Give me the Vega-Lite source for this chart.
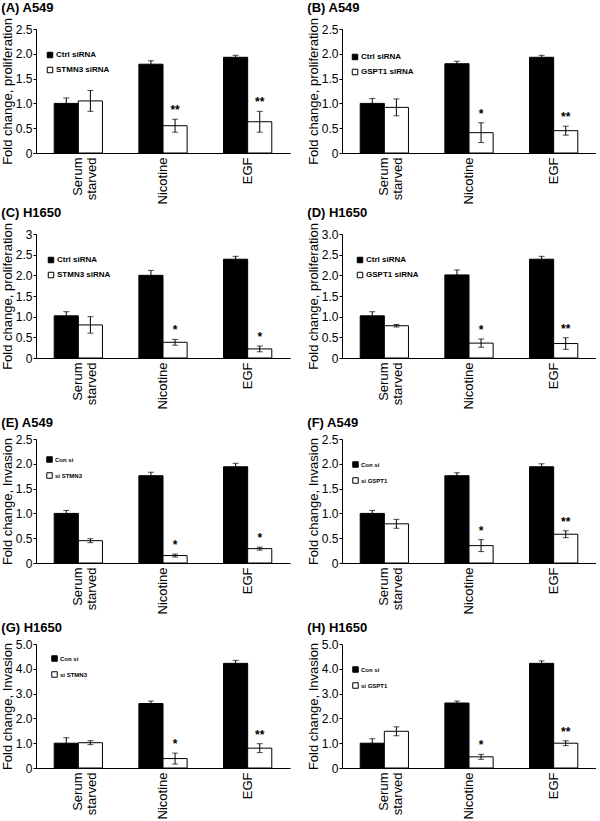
{
  "$schema": "https://vega.github.io/schema/vega-lite/v6.json",
  "padding": {"left": 1, "top": 1, "right": 0, "bottom": 0},
  "background": "white",
  "data": {"values": [
    {"panel": "A", "cond": "Serum starved", "grp": "Ctrl siRNA", "value": 1.0, "err": 0.11, "sig": ""},
    {"panel": "A", "cond": "Serum starved", "grp": "STMN3 siRNA", "value": 1.05, "err": 0.21, "sig": ""},
    {"panel": "A", "cond": "Nicotine", "grp": "Ctrl siRNA", "value": 1.79, "err": 0.07, "sig": ""},
    {"panel": "A", "cond": "Nicotine", "grp": "STMN3 siRNA", "value": 0.55, "err": 0.13, "sig": "**"},
    {"panel": "A", "cond": "EGF", "grp": "Ctrl siRNA", "value": 1.93, "err": 0.04, "sig": ""},
    {"panel": "A", "cond": "EGF", "grp": "STMN3 siRNA", "value": 0.63, "err": 0.21, "sig": "**"},
    {"panel": "B", "cond": "Serum starved", "grp": "Ctrl siRNA", "value": 1.0, "err": 0.1, "sig": ""},
    {"panel": "B", "cond": "Serum starved", "grp": "GSPT1 siRNA", "value": 0.92, "err": 0.17, "sig": ""},
    {"panel": "B", "cond": "Nicotine", "grp": "Ctrl siRNA", "value": 1.8, "err": 0.05, "sig": ""},
    {"panel": "B", "cond": "Nicotine", "grp": "GSPT1 siRNA", "value": 0.41, "err": 0.2, "sig": "*"},
    {"panel": "B", "cond": "EGF", "grp": "Ctrl siRNA", "value": 1.93, "err": 0.04, "sig": ""},
    {"panel": "B", "cond": "EGF", "grp": "GSPT1 siRNA", "value": 0.45, "err": 0.09, "sig": "**"},
    {"panel": "C", "cond": "Serum starved", "grp": "Ctrl siRNA", "value": 1.02, "err": 0.1, "sig": ""},
    {"panel": "C", "cond": "Serum starved", "grp": "STMN3 siRNA", "value": 0.8, "err": 0.2, "sig": ""},
    {"panel": "C", "cond": "Nicotine", "grp": "Ctrl siRNA", "value": 2.0, "err": 0.12, "sig": ""},
    {"panel": "C", "cond": "Nicotine", "grp": "STMN3 siRNA", "value": 0.38, "err": 0.07, "sig": "*"},
    {"panel": "C", "cond": "EGF", "grp": "Ctrl siRNA", "value": 2.39, "err": 0.07, "sig": ""},
    {"panel": "C", "cond": "EGF", "grp": "STMN3 siRNA", "value": 0.22, "err": 0.07, "sig": "*"},
    {"panel": "D", "cond": "Serum starved", "grp": "Ctrl siRNA", "value": 1.02, "err": 0.1, "sig": ""},
    {"panel": "D", "cond": "Serum starved", "grp": "GSPT1 siRNA", "value": 0.78, "err": 0.03, "sig": ""},
    {"panel": "D", "cond": "Nicotine", "grp": "Ctrl siRNA", "value": 2.01, "err": 0.12, "sig": ""},
    {"panel": "D", "cond": "Nicotine", "grp": "GSPT1 siRNA", "value": 0.36, "err": 0.1, "sig": "*"},
    {"panel": "D", "cond": "EGF", "grp": "Ctrl siRNA", "value": 2.39, "err": 0.07, "sig": ""},
    {"panel": "D", "cond": "EGF", "grp": "GSPT1 siRNA", "value": 0.35, "err": 0.14, "sig": "**"},
    {"panel": "E", "cond": "Serum starved", "grp": "Con si", "value": 1.0, "err": 0.06, "sig": ""},
    {"panel": "E", "cond": "Serum starved", "grp": "si STMN3", "value": 0.45, "err": 0.04, "sig": ""},
    {"panel": "E", "cond": "Nicotine", "grp": "Con si", "value": 1.76, "err": 0.07, "sig": ""},
    {"panel": "E", "cond": "Nicotine", "grp": "si STMN3", "value": 0.15, "err": 0.03, "sig": "*"},
    {"panel": "E", "cond": "EGF", "grp": "Con si", "value": 1.94, "err": 0.07, "sig": ""},
    {"panel": "E", "cond": "EGF", "grp": "si STMN3", "value": 0.29, "err": 0.03, "sig": "*"},
    {"panel": "F", "cond": "Serum starved", "grp": "Con si", "value": 1.0, "err": 0.06, "sig": ""},
    {"panel": "F", "cond": "Serum starved", "grp": "si GSPT1", "value": 0.79, "err": 0.09, "sig": ""},
    {"panel": "F", "cond": "Nicotine", "grp": "Con si", "value": 1.76, "err": 0.06, "sig": ""},
    {"panel": "F", "cond": "Nicotine", "grp": "si GSPT1", "value": 0.35, "err": 0.12, "sig": "*"},
    {"panel": "F", "cond": "EGF", "grp": "Con si", "value": 1.94, "err": 0.06, "sig": ""},
    {"panel": "F", "cond": "EGF", "grp": "si GSPT1", "value": 0.58, "err": 0.07, "sig": "**"},
    {"panel": "G", "cond": "Serum starved", "grp": "Con si", "value": 1.0, "err": 0.22, "sig": ""},
    {"panel": "G", "cond": "Serum starved", "grp": "si STMN3", "value": 1.02, "err": 0.08, "sig": ""},
    {"panel": "G", "cond": "Nicotine", "grp": "Con si", "value": 2.6, "err": 0.1, "sig": ""},
    {"panel": "G", "cond": "Nicotine", "grp": "si STMN3", "value": 0.38, "err": 0.22, "sig": "*"},
    {"panel": "G", "cond": "EGF", "grp": "Con si", "value": 4.22, "err": 0.12, "sig": ""},
    {"panel": "G", "cond": "EGF", "grp": "si STMN3", "value": 0.8, "err": 0.18, "sig": "**"},
    {"panel": "H", "cond": "Serum starved", "grp": "Con si", "value": 1.0, "err": 0.18, "sig": ""},
    {"panel": "H", "cond": "Serum starved", "grp": "si GSPT1", "value": 1.48, "err": 0.18, "sig": ""},
    {"panel": "H", "cond": "Nicotine", "grp": "Con si", "value": 2.62, "err": 0.08, "sig": ""},
    {"panel": "H", "cond": "Nicotine", "grp": "si GSPT1", "value": 0.45, "err": 0.1, "sig": "*"},
    {"panel": "H", "cond": "EGF", "grp": "Con si", "value": 4.22, "err": 0.1, "sig": ""},
    {"panel": "H", "cond": "EGF", "grp": "si GSPT1", "value": 1.0, "err": 0.1, "sig": "**"}
  ]},
  "columns": 2,
  "spacing": {"row": 81, "column": 52},
  "bounds": "flush",
  "resolve": {"scale": {"x": "independent", "y": "independent", "fill": "independent", "xOffset": "independent"}, "legend": {"fill": "independent"}},
  "concat": [
    {
      "title": {"text": "\u00a0\u00a0\u00a0\u00a0(A) A549"},
      "width": 254, "height": 124,
      "transform": [{"filter": "datum.panel == 'A'"}, {"calculate": "datum.value - datum.err", "as": "lo"}, {"calculate": "datum.value + datum.err", "as": "hi"}],
      "encoding": {
        "x": {"field": "cond", "type": "nominal", "sort": ["Serum starved", "Nicotine", "EGF"], "title": null, "scale": {"paddingInner": 0.43, "paddingOuter": 0.215}, "axis": {"labelExpr": "datum.value == 'Serum starved' ? ['Serum', 'starved'] : datum.label"}},
        "xOffset": {"field": "grp", "type": "nominal"}
      },
      "layer": [
        {"mark": {"type": "bar", "stroke": "black", "strokeWidth": 1}, "encoding": {"y": {"field": "value", "type": "quantitative", "title": "Fold change, proliferation", "scale": {"domain": [0, 2.5]}, "axis": {"values": [0, 0.5, 1, 1.5, 2, 2.5], "labelExpr": "datum.value == 0 ? '0' : format(datum.value, '.1f')"}}, "fill": {"field": "grp", "type": "nominal", "scale": {"range": ["black", "white"]}, "legend": {"legendX": 10, "legendY": 22, "labelFontSize": 8, "rowPadding": 5}}}},
        {"mark": {"type": "rule", "color": "black"}, "encoding": {"y": {"field": "lo", "type": "quantitative", "title": "Fold change, proliferation", "scale": {"domain": [0, 2.5]}, "axis": {"values": [0, 0.5, 1, 1.5, 2, 2.5], "labelExpr": "datum.value == 0 ? '0' : format(datum.value, '.1f')"}}, "y2": {"field": "hi"}}},
        {"mark": {"type": "tick", "color": "black", "size": 6, "thickness": 1}, "encoding": {"y": {"field": "hi", "type": "quantitative", "title": "Fold change, proliferation", "scale": {"domain": [0, 2.5]}, "axis": {"values": [0, 0.5, 1, 1.5, 2, 2.5], "labelExpr": "datum.value == 0 ? '0' : format(datum.value, '.1f')"}}}},
        {"mark": {"type": "tick", "color": "black", "size": 6, "thickness": 1}, "encoding": {"y": {"field": "lo", "type": "quantitative", "title": "Fold change, proliferation", "scale": {"domain": [0, 2.5]}, "axis": {"values": [0, 0.5, 1, 1.5, 2, 2.5], "labelExpr": "datum.value == 0 ? '0' : format(datum.value, '.1f')"}}}},
        {"mark": {"type": "text", "baseline": "bottom", "dy": -2, "fontSize": 12, "fontWeight": "bold"}, "encoding": {"y": {"field": "hi", "type": "quantitative", "title": "Fold change, proliferation", "scale": {"domain": [0, 2.5]}, "axis": {"values": [0, 0.5, 1, 1.5, 2, 2.5], "labelExpr": "datum.value == 0 ? '0' : format(datum.value, '.1f')"}}, "text": {"field": "sig"}}}
      ]
    },
    {
      "title": {"text": "(B) A549"},
      "width": 254, "height": 124,
      "transform": [{"filter": "datum.panel == 'B'"}, {"calculate": "datum.value - datum.err", "as": "lo"}, {"calculate": "datum.value + datum.err", "as": "hi"}],
      "encoding": {
        "x": {"field": "cond", "type": "nominal", "sort": ["Serum starved", "Nicotine", "EGF"], "title": null, "scale": {"paddingInner": 0.43, "paddingOuter": 0.215}, "axis": {"labelExpr": "datum.value == 'Serum starved' ? ['Serum', 'starved'] : datum.label"}},
        "xOffset": {"field": "grp", "type": "nominal"}
      },
      "layer": [
        {"mark": {"type": "bar", "stroke": "black", "strokeWidth": 1}, "encoding": {"y": {"field": "value", "type": "quantitative", "title": "Fold change, proliferation", "scale": {"domain": [0, 2.5]}, "axis": {"values": [0, 0.5, 1, 1.5, 2, 2.5], "labelExpr": "datum.value == 0 ? '0' : format(datum.value, '.1f')"}}, "fill": {"field": "grp", "type": "nominal", "scale": {"range": ["black", "white"]}, "legend": {"legendX": 9, "legendY": 24, "labelFontSize": 8, "rowPadding": 5}}}},
        {"mark": {"type": "rule", "color": "black"}, "encoding": {"y": {"field": "lo", "type": "quantitative", "title": "Fold change, proliferation", "scale": {"domain": [0, 2.5]}, "axis": {"values": [0, 0.5, 1, 1.5, 2, 2.5], "labelExpr": "datum.value == 0 ? '0' : format(datum.value, '.1f')"}}, "y2": {"field": "hi"}}},
        {"mark": {"type": "tick", "color": "black", "size": 6, "thickness": 1}, "encoding": {"y": {"field": "hi", "type": "quantitative", "title": "Fold change, proliferation", "scale": {"domain": [0, 2.5]}, "axis": {"values": [0, 0.5, 1, 1.5, 2, 2.5], "labelExpr": "datum.value == 0 ? '0' : format(datum.value, '.1f')"}}}},
        {"mark": {"type": "tick", "color": "black", "size": 6, "thickness": 1}, "encoding": {"y": {"field": "lo", "type": "quantitative", "title": "Fold change, proliferation", "scale": {"domain": [0, 2.5]}, "axis": {"values": [0, 0.5, 1, 1.5, 2, 2.5], "labelExpr": "datum.value == 0 ? '0' : format(datum.value, '.1f')"}}}},
        {"mark": {"type": "text", "baseline": "bottom", "dy": -2, "fontSize": 12, "fontWeight": "bold"}, "encoding": {"y": {"field": "hi", "type": "quantitative", "title": "Fold change, proliferation", "scale": {"domain": [0, 2.5]}, "axis": {"values": [0, 0.5, 1, 1.5, 2, 2.5], "labelExpr": "datum.value == 0 ? '0' : format(datum.value, '.1f')"}}, "text": {"field": "sig"}}}
      ]
    },
    {
      "title": {"text": "\u00a0\u00a0\u00a0\u00a0\u00a0(C) H1650"},
      "width": 254, "height": 124,
      "transform": [{"filter": "datum.panel == 'C'"}, {"calculate": "datum.value - datum.err", "as": "lo"}, {"calculate": "datum.value + datum.err", "as": "hi"}],
      "encoding": {
        "x": {"field": "cond", "type": "nominal", "sort": ["Serum starved", "Nicotine", "EGF"], "title": null, "scale": {"paddingInner": 0.43, "paddingOuter": 0.215}, "axis": {"labelExpr": "datum.value == 'Serum starved' ? ['Serum', 'starved'] : datum.label"}},
        "xOffset": {"field": "grp", "type": "nominal"}
      },
      "layer": [
        {"mark": {"type": "bar", "stroke": "black", "strokeWidth": 1}, "encoding": {"y": {"field": "value", "type": "quantitative", "title": "Fold change, proliferation", "scale": {"domain": [0, 3]}, "axis": {"values": [0, 0.5, 1, 1.5, 2, 2.5, 3], "labelExpr": "datum.value == 0 ? '0' : datum.value == 3 ? '3' : format(datum.value, '.1f')"}}, "fill": {"field": "grp", "type": "nominal", "scale": {"range": ["black", "white"]}, "legend": {"legendX": 11, "legendY": 22, "labelFontSize": 8, "rowPadding": 5}}}},
        {"mark": {"type": "rule", "color": "black"}, "encoding": {"y": {"field": "lo", "type": "quantitative", "title": "Fold change, proliferation", "scale": {"domain": [0, 3]}, "axis": {"values": [0, 0.5, 1, 1.5, 2, 2.5, 3], "labelExpr": "datum.value == 0 ? '0' : datum.value == 3 ? '3' : format(datum.value, '.1f')"}}, "y2": {"field": "hi"}}},
        {"mark": {"type": "tick", "color": "black", "size": 6, "thickness": 1}, "encoding": {"y": {"field": "hi", "type": "quantitative", "title": "Fold change, proliferation", "scale": {"domain": [0, 3]}, "axis": {"values": [0, 0.5, 1, 1.5, 2, 2.5, 3], "labelExpr": "datum.value == 0 ? '0' : datum.value == 3 ? '3' : format(datum.value, '.1f')"}}}},
        {"mark": {"type": "tick", "color": "black", "size": 6, "thickness": 1}, "encoding": {"y": {"field": "lo", "type": "quantitative", "title": "Fold change, proliferation", "scale": {"domain": [0, 3]}, "axis": {"values": [0, 0.5, 1, 1.5, 2, 2.5, 3], "labelExpr": "datum.value == 0 ? '0' : datum.value == 3 ? '3' : format(datum.value, '.1f')"}}}},
        {"mark": {"type": "text", "baseline": "bottom", "dy": -2, "fontSize": 12, "fontWeight": "bold"}, "encoding": {"y": {"field": "hi", "type": "quantitative", "title": "Fold change, proliferation", "scale": {"domain": [0, 3]}, "axis": {"values": [0, 0.5, 1, 1.5, 2, 2.5, 3], "labelExpr": "datum.value == 0 ? '0' : datum.value == 3 ? '3' : format(datum.value, '.1f')"}}, "text": {"field": "sig"}}}
      ]
    },
    {
      "title": {"text": "(D) H1650"},
      "width": 254, "height": 124,
      "transform": [{"filter": "datum.panel == 'D'"}, {"calculate": "datum.value - datum.err", "as": "lo"}, {"calculate": "datum.value + datum.err", "as": "hi"}],
      "encoding": {
        "x": {"field": "cond", "type": "nominal", "sort": ["Serum starved", "Nicotine", "EGF"], "title": null, "scale": {"paddingInner": 0.43, "paddingOuter": 0.215}, "axis": {"labelExpr": "datum.value == 'Serum starved' ? ['Serum', 'starved'] : datum.label"}},
        "xOffset": {"field": "grp", "type": "nominal"}
      },
      "layer": [
        {"mark": {"type": "bar", "stroke": "black", "strokeWidth": 1}, "encoding": {"y": {"field": "value", "type": "quantitative", "title": "Fold change, proliferation", "scale": {"domain": [0, 3]}, "axis": {"values": [0, 0.5, 1, 1.5, 2, 2.5, 3], "labelExpr": "datum.value == 0 ? '0' : format(datum.value, '.1f')"}}, "fill": {"field": "grp", "type": "nominal", "scale": {"range": ["black", "white"]}, "legend": {"legendX": 14, "legendY": 22, "labelFontSize": 8, "rowPadding": 5}}}},
        {"mark": {"type": "rule", "color": "black"}, "encoding": {"y": {"field": "lo", "type": "quantitative", "title": "Fold change, proliferation", "scale": {"domain": [0, 3]}, "axis": {"values": [0, 0.5, 1, 1.5, 2, 2.5, 3], "labelExpr": "datum.value == 0 ? '0' : format(datum.value, '.1f')"}}, "y2": {"field": "hi"}}},
        {"mark": {"type": "tick", "color": "black", "size": 6, "thickness": 1}, "encoding": {"y": {"field": "hi", "type": "quantitative", "title": "Fold change, proliferation", "scale": {"domain": [0, 3]}, "axis": {"values": [0, 0.5, 1, 1.5, 2, 2.5, 3], "labelExpr": "datum.value == 0 ? '0' : format(datum.value, '.1f')"}}}},
        {"mark": {"type": "tick", "color": "black", "size": 6, "thickness": 1}, "encoding": {"y": {"field": "lo", "type": "quantitative", "title": "Fold change, proliferation", "scale": {"domain": [0, 3]}, "axis": {"values": [0, 0.5, 1, 1.5, 2, 2.5, 3], "labelExpr": "datum.value == 0 ? '0' : format(datum.value, '.1f')"}}}},
        {"mark": {"type": "text", "baseline": "bottom", "dy": -2, "fontSize": 12, "fontWeight": "bold"}, "encoding": {"y": {"field": "hi", "type": "quantitative", "title": "Fold change, proliferation", "scale": {"domain": [0, 3]}, "axis": {"values": [0, 0.5, 1, 1.5, 2, 2.5, 3], "labelExpr": "datum.value == 0 ? '0' : format(datum.value, '.1f')"}}, "text": {"field": "sig"}}}
      ]
    },
    {
      "title": {"text": "\u00a0\u00a0\u00a0\u00a0\u00a0\u00a0(E) A549"},
      "width": 254, "height": 124,
      "transform": [{"filter": "datum.panel == 'E'"}, {"calculate": "datum.value - datum.err", "as": "lo"}, {"calculate": "datum.value + datum.err", "as": "hi"}],
      "encoding": {
        "x": {"field": "cond", "type": "nominal", "sort": ["Serum starved", "Nicotine", "EGF"], "title": null, "scale": {"paddingInner": 0.43, "paddingOuter": 0.215}, "axis": {"labelExpr": "datum.value == 'Serum starved' ? ['Serum', 'starved'] : datum.label"}},
        "xOffset": {"field": "grp", "type": "nominal"}
      },
      "layer": [
        {"mark": {"type": "bar", "stroke": "black", "strokeWidth": 1}, "encoding": {"y": {"field": "value", "type": "quantitative", "title": "Fold change, Invasion", "scale": {"domain": [0, 2.5]}, "axis": {"values": [0, 0.5, 1, 1.5, 2, 2.5], "labelExpr": "datum.value == 0 ? '0' : format(datum.value, '.1f')"}}, "fill": {"field": "grp", "type": "nominal", "scale": {"range": ["black", "white"]}, "legend": {"legendX": 10, "legendY": 17, "labelFontSize": 6, "rowPadding": 5}}}},
        {"mark": {"type": "rule", "color": "black"}, "encoding": {"y": {"field": "lo", "type": "quantitative", "title": "Fold change, Invasion", "scale": {"domain": [0, 2.5]}, "axis": {"values": [0, 0.5, 1, 1.5, 2, 2.5], "labelExpr": "datum.value == 0 ? '0' : format(datum.value, '.1f')"}}, "y2": {"field": "hi"}}},
        {"mark": {"type": "tick", "color": "black", "size": 6, "thickness": 1}, "encoding": {"y": {"field": "hi", "type": "quantitative", "title": "Fold change, Invasion", "scale": {"domain": [0, 2.5]}, "axis": {"values": [0, 0.5, 1, 1.5, 2, 2.5], "labelExpr": "datum.value == 0 ? '0' : format(datum.value, '.1f')"}}}},
        {"mark": {"type": "tick", "color": "black", "size": 6, "thickness": 1}, "encoding": {"y": {"field": "lo", "type": "quantitative", "title": "Fold change, Invasion", "scale": {"domain": [0, 2.5]}, "axis": {"values": [0, 0.5, 1, 1.5, 2, 2.5], "labelExpr": "datum.value == 0 ? '0' : format(datum.value, '.1f')"}}}},
        {"mark": {"type": "text", "baseline": "bottom", "dy": -2, "fontSize": 12, "fontWeight": "bold"}, "encoding": {"y": {"field": "hi", "type": "quantitative", "title": "Fold change, Invasion", "scale": {"domain": [0, 2.5]}, "axis": {"values": [0, 0.5, 1, 1.5, 2, 2.5], "labelExpr": "datum.value == 0 ? '0' : format(datum.value, '.1f')"}}, "text": {"field": "sig"}}}
      ]
    },
    {
      "title": {"text": "(F) A549"},
      "width": 254, "height": 124,
      "transform": [{"filter": "datum.panel == 'F'"}, {"calculate": "datum.value - datum.err", "as": "lo"}, {"calculate": "datum.value + datum.err", "as": "hi"}],
      "encoding": {
        "x": {"field": "cond", "type": "nominal", "sort": ["Serum starved", "Nicotine", "EGF"], "title": null, "scale": {"paddingInner": 0.43, "paddingOuter": 0.215}, "axis": {"labelExpr": "datum.value == 'Serum starved' ? ['Serum', 'starved'] : datum.label"}},
        "xOffset": {"field": "grp", "type": "nominal"}
      },
      "layer": [
        {"mark": {"type": "bar", "stroke": "black", "strokeWidth": 1}, "encoding": {"y": {"field": "value", "type": "quantitative", "title": "Fold change, Invasion", "scale": {"domain": [0, 2.5]}, "axis": {"values": [0, 0.5, 1, 1.5, 2, 2.5], "labelExpr": "datum.value == 0 ? '0' : format(datum.value, '.1f')"}}, "fill": {"field": "grp", "type": "nominal", "scale": {"range": ["black", "white"]}, "legend": {"legendX": 10, "legendY": 22, "labelFontSize": 6, "rowPadding": 5}}}},
        {"mark": {"type": "rule", "color": "black"}, "encoding": {"y": {"field": "lo", "type": "quantitative", "title": "Fold change, Invasion", "scale": {"domain": [0, 2.5]}, "axis": {"values": [0, 0.5, 1, 1.5, 2, 2.5], "labelExpr": "datum.value == 0 ? '0' : format(datum.value, '.1f')"}}, "y2": {"field": "hi"}}},
        {"mark": {"type": "tick", "color": "black", "size": 6, "thickness": 1}, "encoding": {"y": {"field": "hi", "type": "quantitative", "title": "Fold change, Invasion", "scale": {"domain": [0, 2.5]}, "axis": {"values": [0, 0.5, 1, 1.5, 2, 2.5], "labelExpr": "datum.value == 0 ? '0' : format(datum.value, '.1f')"}}}},
        {"mark": {"type": "tick", "color": "black", "size": 6, "thickness": 1}, "encoding": {"y": {"field": "lo", "type": "quantitative", "title": "Fold change, Invasion", "scale": {"domain": [0, 2.5]}, "axis": {"values": [0, 0.5, 1, 1.5, 2, 2.5], "labelExpr": "datum.value == 0 ? '0' : format(datum.value, '.1f')"}}}},
        {"mark": {"type": "text", "baseline": "bottom", "dy": -2, "fontSize": 12, "fontWeight": "bold"}, "encoding": {"y": {"field": "hi", "type": "quantitative", "title": "Fold change, Invasion", "scale": {"domain": [0, 2.5]}, "axis": {"values": [0, 0.5, 1, 1.5, 2, 2.5], "labelExpr": "datum.value == 0 ? '0' : format(datum.value, '.1f')"}}, "text": {"field": "sig"}}}
      ]
    },
    {
      "title": {"text": "\u00a0\u00a0\u00a0\u00a0\u00a0\u00a0(G) H1650"},
      "width": 254, "height": 124,
      "transform": [{"filter": "datum.panel == 'G'"}, {"calculate": "datum.value - datum.err", "as": "lo"}, {"calculate": "datum.value + datum.err", "as": "hi"}],
      "encoding": {
        "x": {"field": "cond", "type": "nominal", "sort": ["Serum starved", "Nicotine", "EGF"], "title": null, "scale": {"paddingInner": 0.43, "paddingOuter": 0.215}, "axis": {"labelExpr": "datum.value == 'Serum starved' ? ['Serum', 'starved'] : datum.label"}},
        "xOffset": {"field": "grp", "type": "nominal"}
      },
      "layer": [
        {"mark": {"type": "bar", "stroke": "black", "strokeWidth": 1}, "encoding": {"y": {"field": "value", "type": "quantitative", "title": "Fold change, Invasion", "scale": {"domain": [0, 5]}, "axis": {"values": [0, 1, 2, 3, 4, 5], "labelExpr": "datum.value == 0 ? '0' : format(datum.value, '.1f')"}}, "fill": {"field": "grp", "type": "nominal", "scale": {"range": ["black", "white"]}, "legend": {"legendX": 15, "legendY": 11, "labelFontSize": 6, "rowPadding": 5}}}},
        {"mark": {"type": "rule", "color": "black"}, "encoding": {"y": {"field": "lo", "type": "quantitative", "title": "Fold change, Invasion", "scale": {"domain": [0, 5]}, "axis": {"values": [0, 1, 2, 3, 4, 5], "labelExpr": "datum.value == 0 ? '0' : format(datum.value, '.1f')"}}, "y2": {"field": "hi"}}},
        {"mark": {"type": "tick", "color": "black", "size": 6, "thickness": 1}, "encoding": {"y": {"field": "hi", "type": "quantitative", "title": "Fold change, Invasion", "scale": {"domain": [0, 5]}, "axis": {"values": [0, 1, 2, 3, 4, 5], "labelExpr": "datum.value == 0 ? '0' : format(datum.value, '.1f')"}}}},
        {"mark": {"type": "tick", "color": "black", "size": 6, "thickness": 1}, "encoding": {"y": {"field": "lo", "type": "quantitative", "title": "Fold change, Invasion", "scale": {"domain": [0, 5]}, "axis": {"values": [0, 1, 2, 3, 4, 5], "labelExpr": "datum.value == 0 ? '0' : format(datum.value, '.1f')"}}}},
        {"mark": {"type": "text", "baseline": "bottom", "dy": -2, "fontSize": 12, "fontWeight": "bold"}, "encoding": {"y": {"field": "hi", "type": "quantitative", "title": "Fold change, Invasion", "scale": {"domain": [0, 5]}, "axis": {"values": [0, 1, 2, 3, 4, 5], "labelExpr": "datum.value == 0 ? '0' : format(datum.value, '.1f')"}}, "text": {"field": "sig"}}}
      ]
    },
    {
      "title": {"text": "(H) H1650"},
      "width": 254, "height": 124,
      "transform": [{"filter": "datum.panel == 'H'"}, {"calculate": "datum.value - datum.err", "as": "lo"}, {"calculate": "datum.value + datum.err", "as": "hi"}],
      "encoding": {
        "x": {"field": "cond", "type": "nominal", "sort": ["Serum starved", "Nicotine", "EGF"], "title": null, "scale": {"paddingInner": 0.43, "paddingOuter": 0.215}, "axis": {"labelExpr": "datum.value == 'Serum starved' ? ['Serum', 'starved'] : datum.label"}},
        "xOffset": {"field": "grp", "type": "nominal"}
      },
      "layer": [
        {"mark": {"type": "bar", "stroke": "black", "strokeWidth": 1}, "encoding": {"y": {"field": "value", "type": "quantitative", "title": "Fold change, Invasion", "scale": {"domain": [0, 5]}, "axis": {"values": [0, 1, 2, 3, 4, 5], "labelExpr": "datum.value == 0 ? '0' : format(datum.value, '.1f')"}}, "fill": {"field": "grp", "type": "nominal", "scale": {"range": ["black", "white"]}, "legend": {"legendX": 10, "legendY": 22, "labelFontSize": 6, "rowPadding": 5}}}},
        {"mark": {"type": "rule", "color": "black"}, "encoding": {"y": {"field": "lo", "type": "quantitative", "title": "Fold change, Invasion", "scale": {"domain": [0, 5]}, "axis": {"values": [0, 1, 2, 3, 4, 5], "labelExpr": "datum.value == 0 ? '0' : format(datum.value, '.1f')"}}, "y2": {"field": "hi"}}},
        {"mark": {"type": "tick", "color": "black", "size": 6, "thickness": 1}, "encoding": {"y": {"field": "hi", "type": "quantitative", "title": "Fold change, Invasion", "scale": {"domain": [0, 5]}, "axis": {"values": [0, 1, 2, 3, 4, 5], "labelExpr": "datum.value == 0 ? '0' : format(datum.value, '.1f')"}}}},
        {"mark": {"type": "tick", "color": "black", "size": 6, "thickness": 1}, "encoding": {"y": {"field": "lo", "type": "quantitative", "title": "Fold change, Invasion", "scale": {"domain": [0, 5]}, "axis": {"values": [0, 1, 2, 3, 4, 5], "labelExpr": "datum.value == 0 ? '0' : format(datum.value, '.1f')"}}}},
        {"mark": {"type": "text", "baseline": "bottom", "dy": -2, "fontSize": 12, "fontWeight": "bold"}, "encoding": {"y": {"field": "hi", "type": "quantitative", "title": "Fold change, Invasion", "scale": {"domain": [0, 5]}, "axis": {"values": [0, 1, 2, 3, 4, 5], "labelExpr": "datum.value == 0 ? '0' : format(datum.value, '.1f')"}}, "text": {"field": "sig"}}}
      ]
    }
  ],
  "config": {
    "font": "Liberation Sans",
    "view": {"stroke": null},
    "title": {"anchor": "start", "fontSize": 13, "fontWeight": "bold", "color": "black", "offset": 3},
    "axis": {"domainColor": "black", "tickColor": "black", "labelColor": "black", "titleColor": "black", "labelFontSize": 12, "titleFontSize": 13, "titleFontWeight": "normal", "grid": false, "tickSize": 3, "labelPadding": 1, "titlePadding": 1, "labelOverlap": false},
    "axisX": {"ticks": false, "labelAngle": -90, "labelPadding": 4, "labelFontSize": 13, "labelLineHeight": 14},
    "legend": {"orient": "none", "title": null, "symbolType": "square", "symbolSize": 30, "symbolStrokeColor": "black", "symbolStrokeWidth": 1, "labelFontWeight": "bold", "labelColor": "black", "labelOffset": 2, "padding": 0}
  }
}
